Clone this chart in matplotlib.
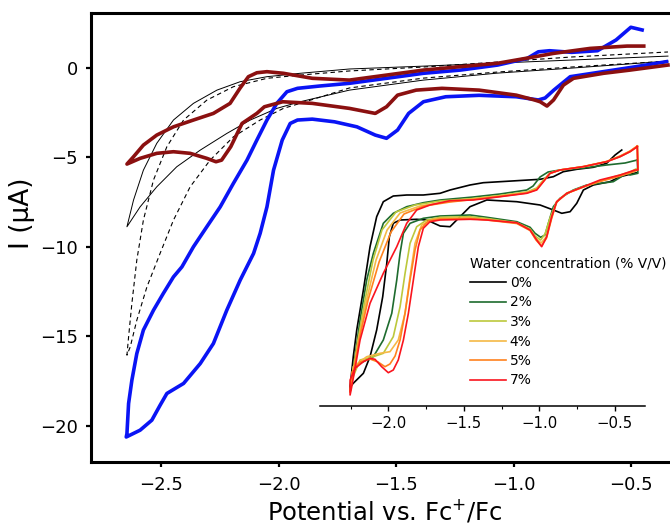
import matplotlib
matplotlib.use("Agg")
import matplotlib.pyplot as plt
from matplotlib.ticker import MultipleLocator

plt.rcParams['font.family'] = ['DejaVu Sans']

# ---------------- main chart data (Potential V vs Fc+/Fc, current uA) ----------------
blue_x = [-0.35, -0.48, -0.62, -0.76, -0.83, -0.867, -0.896, -0.99, -1.148, -1.29, -1.385, -1.448,
          -1.495, -1.542, -1.59, -1.668, -1.763, -1.858, -1.921, -1.952, -1.986, -2.023, -2.051,
          -2.08, -2.108, -2.165, -2.222, -2.279, -2.335, -2.406, -2.477, -2.506, -2.541, -2.591, -2.65,
          -2.647, -2.64, -2.626, -2.605, -2.577, -2.534, -2.492, -2.449, -2.413, -2.364, -2.307, -2.25,
          -2.194, -2.136, -2.094, -2.051, -2.009, -1.966, -1.921, -1.826, -1.70, -1.542, -1.385, -1.227,
          -1.069, -0.943, -0.896, -0.848, -0.754, -0.644, -0.565, -0.502, -0.454]
blue_y = [0.34, 0.06, -0.22, -0.50, -1.25, -1.69, -1.80, -1.62, -1.54, -1.62, -1.90, -2.55,
          -3.48, -3.94, -3.76, -3.30, -3.02, -2.87, -2.92, -3.11, -4.04, -5.72, -7.77,
          -9.25, -10.37, -11.86, -13.54, -15.40, -16.52, -17.63, -18.19, -18.85, -19.68, -20.24, -20.62,
          -20.43, -18.75, -17.45, -15.96, -14.65, -13.54, -12.60, -11.68, -11.12, -10.00, -8.88, -7.77,
          -6.46, -5.16, -4.04, -2.92, -1.99, -1.34, -1.15, -1.02, -0.87, -0.59, -0.31, -0.13,
          0.15, 0.52, 0.89, 0.95, 0.86, 0.95, 1.55, 2.26, 2.11]

red_x = [-0.344, -0.505, -0.618, -0.746, -0.789, -0.831, -0.859, -0.888, -0.912, -0.99, -1.148,
         -1.306, -1.416, -1.495, -1.542, -1.59, -1.70, -1.858, -1.984, -2.062, -2.094, -2.157, -2.205,
         -2.244, -2.268, -2.307, -2.378, -2.449, -2.52, -2.591, -2.647,
         -2.619, -2.577, -2.52, -2.449, -2.364, -2.279, -2.208, -2.165, -2.13, -2.094, -2.051, -1.981,
         -1.858, -1.70, -1.542, -1.385, -1.227, -1.069, -0.912, -0.832, -0.675, -0.518, -0.447]
red_y = [0.15, -0.13, -0.31, -0.59, -0.97, -1.80, -2.14, -1.90, -1.80, -1.53, -1.25,
         -1.15, -1.25, -1.53, -2.18, -2.55, -2.27, -1.99, -1.90, -2.18, -2.55, -3.11, -4.41,
         -5.16, -5.25, -5.06, -4.78, -4.69, -4.78, -5.06, -5.38,
         -4.97, -4.32, -3.76, -3.30, -2.92, -2.55, -1.99, -1.13, -0.50, -0.28, -0.22, -0.31,
         -0.59, -0.69, -0.41, -0.13, 0.06, 0.25, 0.61, 0.80, 1.08, 1.21, 1.21]

bg_solid_x = [-0.344, -0.754, -1.069, -1.385, -1.70, -1.91, -2.009, -2.122, -2.222, -2.335, -2.435,
              -2.52, -2.591, -2.647, -2.619, -2.577, -2.52, -2.449, -2.364, -2.264, -2.165, -2.051,
              -1.91, -1.70, -1.385, -1.069, -0.754, -0.344]
bg_solid_y = [0.37, -0.02, -0.30, -0.69, -1.25, -1.90, -2.27, -2.92, -3.67, -4.60, -5.53,
              -6.65, -7.77, -8.88, -7.39, -5.72, -4.22, -2.92, -1.99, -1.25, -0.78, -0.50,
              -0.31, -0.07, 0.09, 0.26, 0.43, 0.65]

bg_dash_x = [-0.344, -0.754, -1.069, -1.385, -1.70, -1.91, -1.981, -2.08, -2.194, -2.293, -2.378,
             -2.449, -2.506, -2.562, -2.605, -2.633, -2.647, -2.64, -2.626, -2.605, -2.577, -2.534,
             -2.477, -2.406, -2.307, -2.194, -2.051, -1.91, -1.70, -1.385, -1.069, -0.754, -0.344]
bg_dash_y = [0.37, 0.04, -0.24, -0.58, -1.13, -1.99, -2.27, -2.92, -3.86, -5.16, -6.65,
             -8.51, -10.37, -12.24, -14.10, -15.59, -16.05, -15.03, -13.16, -10.74, -8.51, -6.27,
             -4.41, -2.92, -1.81, -1.06, -0.59, -0.41, -0.18, 0.04, 0.32, 0.60, 0.88]

main_xticks = [-2.5, -2.0, -1.5, -1.0, -0.5]
main_yticks = [-20, -15, -10, -5, 0]

# ---------------- inset data (water concentration series) ----------------
water_labels = ["0%", "2%", "3%", "4%", "5%", "7%"]
water_colors = ["#000000", "#1E6B2E", "#BCC83C", "#F5B946", "#FF821E", "#FA141E"]

w0_x = [-0.355, -0.465, -0.532, -0.642, -0.708, -0.752, -0.796, -0.851, -0.907, -0.995, -1.149,
        -1.348, -1.459, -1.525, -1.591, -1.657, -1.745, -1.812, -1.922, -1.967, -1.993, -2.010,
        -2.037, -2.077, -2.121, -2.165, -2.232, -2.253,
        -2.232, -2.209, -2.165, -2.121, -2.077, -2.033, -1.967, -1.878, -1.768, -1.657, -1.591,
        -1.459, -1.371, -1.149, -0.995, -0.907, -0.841, -0.752, -0.642, -0.554, -0.498, -0.454]
w0_y = [-2.27, -2.67, -3.17, -3.50, -4.00, -5.33, -6.17, -6.33, -6.00, -5.50, -5.17,
        -5.00, -5.67, -6.67, -7.67, -7.60, -7.00, -6.93, -7.00, -7.33, -8.67, -11.33,
        -14.67, -18.00, -20.67, -22.33, -23.33, -23.70,
        -20.67, -18.00, -14.00, -9.67, -6.67, -5.17, -4.60, -4.50, -4.50, -4.33, -4.00,
        -3.50, -3.27, -3.07, -2.93, -2.67, -2.17, -1.93, -1.73, -1.33, -0.50, 0.00]

w2_x = [-0.351, -0.347, -0.399, -0.421, -0.510, -0.598, -0.686, -0.775, -0.863, -0.907, -0.940,
        -0.962, -0.991, -1.028, -1.061, -1.149, -1.348, -1.459, -1.657, -1.768, -1.856, -1.900,
        -1.922, -1.944, -1.977, -2.033, -2.099, -2.187, -2.232, -2.253,
        -2.242, -2.187, -2.143, -2.099, -2.033, -1.967, -1.878, -1.768, -1.657, -1.437, -1.260,
        -1.083, -1.041, -0.995, -0.942, -0.863, -0.708, -0.554, -0.432, -0.351]
w2_y = [-1.00, -2.33, -2.50, -2.33, -3.17, -3.33, -3.50, -4.00, -4.83, -5.67, -7.33,
        -8.50, -8.73, -8.33, -7.73, -7.17, -6.73, -6.50, -6.60, -6.83, -7.33, -8.33,
        -10.33, -13.00, -16.33, -19.00, -20.67, -21.33, -21.67, -23.90,
        -23.00, -17.00, -13.00, -10.33, -7.33, -6.33, -5.67, -5.27, -5.00, -4.70, -4.40,
        -4.00, -3.60, -2.70, -2.20, -2.00, -1.80, -1.50, -1.30, -1.00]

w3_x = [-0.351, -0.347, -0.399, -0.487, -0.598, -0.708, -0.818, -0.885, -0.929, -0.962, -0.991,
        -1.028, -1.061, -1.149, -1.348, -1.459, -1.657, -1.745, -1.812, -1.856, -1.889, -1.922,
        -1.967, -2.033, -2.099, -2.187, -2.242, -2.253,
        -2.237, -2.201, -2.154, -2.101, -2.042, -1.949, -1.823, -1.657, -1.437, -1.260, -1.083,
        -1.017, -0.973, -0.929, -0.863, -0.708, -0.554, -0.465, -0.399, -0.351]
w3_y = [0.33, -1.80, -2.20, -2.60, -3.10, -3.67, -4.30, -5.17, -6.80, -8.40, -9.00,
        -8.60, -7.90, -7.27, -6.85, -6.67, -6.73, -7.00, -7.67, -9.33, -12.33, -15.67,
        -18.67, -20.33, -20.67, -21.00, -23.00, -24.20,
        -22.50, -19.00, -15.00, -11.00, -8.00, -6.20, -5.50, -5.10, -4.85, -4.55, -4.20,
        -3.80, -3.00, -2.30, -2.00, -1.67, -1.17, -0.67, -0.17, 0.33]

w4_x = [-0.351, -0.347, -0.399, -0.487, -0.598, -0.708, -0.818, -0.885, -0.922, -0.955, -0.988,
        -1.025, -1.061, -1.149, -1.348, -1.459, -1.657, -1.702, -1.779, -1.823, -1.856, -1.889,
        -1.934, -1.989, -2.055, -2.143, -2.232, -2.253,
        -2.237, -2.197, -2.144, -2.081, -2.008, -1.922, -1.790, -1.624, -1.437, -1.260, -1.083,
        -1.017, -0.973, -0.929, -0.863, -0.708, -0.554, -0.465, -0.399, -0.351]
w4_y = [0.40, -1.90, -2.25, -2.65, -3.10, -3.70, -4.33, -5.20, -6.90, -8.70, -9.30,
        -8.80, -8.00, -7.30, -6.95, -6.80, -6.85, -6.93, -7.50, -9.33, -12.67, -16.33,
        -19.00, -20.17, -20.33, -20.67, -21.67, -24.20,
        -22.80, -19.00, -15.00, -11.00, -8.00, -6.30, -5.60, -5.20, -4.90, -4.60, -4.25,
        -3.90, -3.10, -2.33, -2.00, -1.67, -1.15, -0.60, -0.10, 0.40]

w5_x = [-0.351, -0.347, -0.399, -0.487, -0.598, -0.708, -0.818, -0.885, -0.919, -0.952, -0.986,
        -1.022, -1.061, -1.149, -1.348, -1.459, -1.657, -1.737, -1.790, -1.823, -1.856, -1.889,
        -1.922, -1.955, -1.989, -2.022, -2.068, -2.121, -2.187, -2.240, -2.253,
        -2.240, -2.194, -2.134, -2.061, -1.982, -1.896, -1.763, -1.591, -1.437, -1.260, -1.083,
        -1.017, -0.973, -0.929, -0.863, -0.708, -0.554, -0.465, -0.399, -0.351]
w5_y = [0.40, -2.00, -2.30, -2.70, -3.15, -3.70, -4.35, -5.20, -6.90, -8.80, -9.60,
        -9.00, -8.05, -7.35, -7.00, -6.85, -6.90, -7.10, -8.00, -10.00, -13.00, -16.30,
        -19.00, -20.60, -21.40, -21.67, -21.20, -20.90, -21.20, -22.20, -24.20,
        -23.00, -19.00, -15.00, -11.20, -8.20, -6.40, -5.60, -5.20, -4.95, -4.65, -4.30,
        -3.95, -3.15, -2.35, -2.00, -1.65, -1.15, -0.62, -0.12, 0.40]

w7_x = [-0.351, -0.347, -0.366, -0.465, -0.598, -0.708, -0.818, -0.885, -0.918, -0.951, -0.984,
        -1.017, -1.061, -1.149, -1.348, -1.459, -1.657, -1.724, -1.768, -1.801, -1.834, -1.867,
        -1.900, -1.934, -1.967, -2.000, -2.044, -2.088, -2.121, -2.165, -2.220, -2.253, -2.253,
        -2.242, -2.187, -2.121, -2.033, -1.944, -1.878, -1.812, -1.724, -1.591, -1.437, -1.260,
        -1.083, -1.017, -0.973, -0.929, -0.863, -0.708, -0.554, -0.465, -0.399, -0.351]
w7_y = [0.33, -2.00, -2.00, -2.50, -3.00, -3.67, -4.33, -5.17, -6.67, -8.67, -9.67,
        -9.00, -8.00, -7.27, -7.00, -6.93, -7.00, -7.17, -7.83, -9.67, -13.00, -16.33,
        -19.00, -21.00, -22.00, -22.27, -21.67, -20.93, -20.83, -21.17, -21.83, -23.00, -24.50,
        -23.67, -19.00, -15.33, -12.33, -9.67, -7.33, -6.00, -5.50, -5.07, -5.00, -4.67,
        -4.33, -4.00, -3.17, -2.33, -2.00, -1.67, -1.17, -0.67, -0.17, 0.33]

inset_xticks = [-2.0, -1.5, -1.0, -0.5]

# ---------------- figure ----------------
W, H = 670, 526
fig = plt.figure(figsize=(W / 100, H / 100), dpi=100)

ax = fig.add_axes([91 / W, (H - 461.7) / H, 587.3 / W, 448.4 / H])
ax.plot(bg_solid_x, bg_solid_y, color="black", lw=0.7)
ax.plot(bg_dash_x, bg_dash_y, color="black", lw=0.8, ls=(0, (4, 3)))
ax.plot(blue_x, blue_y, color="#0A14F5", lw=2.6, solid_joinstyle="round")
ax.plot(red_x, red_y, color="#8B1010", lw=2.6, solid_joinstyle="round")

ax.set_xlim(-2.8, -0.3)
ax.set_ylim(-22.0, 3.04)
ax.set_xticks(main_xticks)
ax.set_yticks(main_yticks)
for s in ax.spines.values():
    s.set_linewidth(2.2)
ax.tick_params(axis="both", direction="out", length=3.6, width=1.6, labelsize=13)
ax.tick_params(axis="x", pad=7)
ax.tick_params(axis="y", pad=6)
ax.set_xlabel("Potential vs. Fc$^{+}$/Fc", fontsize=17.5, labelpad=2)
ax.set_ylabel("I (\u03bcA)", fontsize=19)
ax.yaxis.set_label_coords(-0.095, 0.555)

# inset
axi = fig.add_axes([320.35 / W, (H - 405.7) / H, 324.65 / W, 265.7 / H])
axi.set_facecolor("none")
series = [(w0_x, w0_y), (w2_x, w2_y), (w3_x, w3_y), (w4_x, w4_y), (w5_x, w5_y), (w7_x, w7_y)]
handles = []
for (xs, ys), c, lab in zip(series, water_colors, water_labels):
    ln, = axi.plot(xs, ys, color=c, lw=1.2, label=lab)
    handles.append(ln)
axi.set_xlim(-2.45, -0.30)
axi.set_ylim(-25.57, 1.0)
for k in ["left", "right", "top"]:
    axi.spines[k].set_visible(False)
axi.spines["bottom"].set_linewidth(1.1)
axi.set_yticks([])
axi.set_xticks(inset_xticks)
axi.xaxis.set_minor_locator(MultipleLocator(0.25))
axi.tick_params(axis="x", which="major", direction="out", length=3.6, width=1.0, labelsize=10.7, pad=4)
axi.tick_params(axis="x", which="minor", direction="out", length=2.2, width=0.8)

leg = axi.legend(handles=handles, labels=water_labels, title="Water concentration (% V/V)",
                 loc="upper left", bbox_to_anchor=(470.5 / W, 1 - 256.5 / H),
                 bbox_transform=fig.transFigure, frameon=False, fontsize=9.9,
                 title_fontsize=9.9, handlelength=2.55, handletextpad=0.3,
                 labelspacing=0.40, borderpad=0, borderaxespad=0, alignment="left")

fig.savefig("out.png", dpi=100)
